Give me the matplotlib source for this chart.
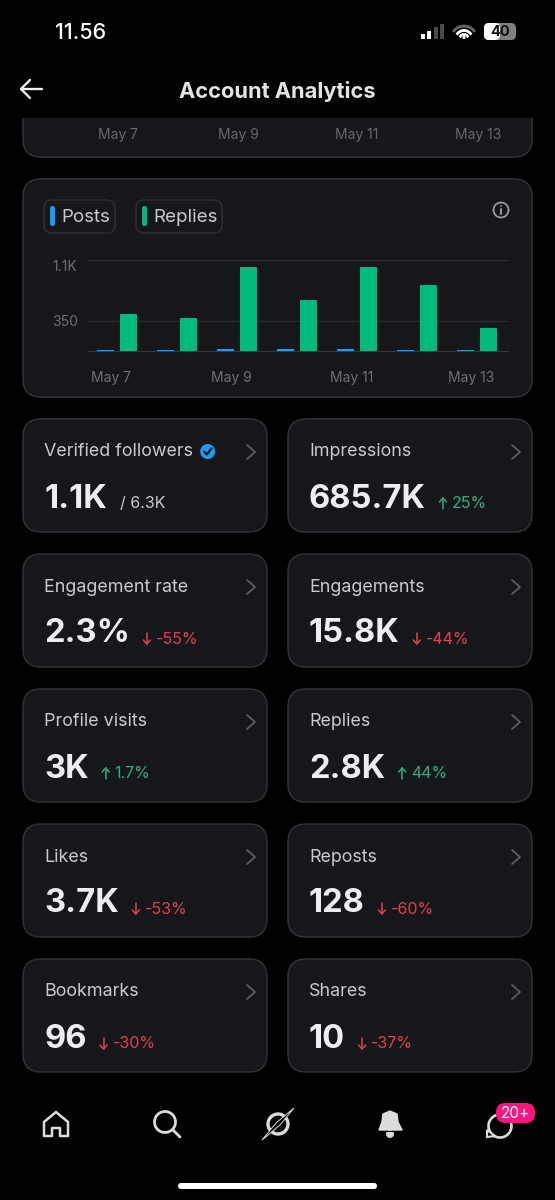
import numpy as np
import matplotlib
matplotlib.use("Agg")
import matplotlib.pyplot as plt
from matplotlib.patches import FancyBboxPatch, Circle, Rectangle, Polygon

plt.rcParams['font.family'] = ['Inter', 'DejaVu Sans']

# bar chart data
days = ["May 7", "May 8", "May 9", "May 10", "May 11", "May 12", "May 13"]
posts = [10, 14, 24, 22, 24, 16, 10]
replies = [420, 378, 965, 580, 958, 755, 252]
y_ticks = [350, 1050]
y_tick_labels = ["350", "1.1K"]

# stat cards
card_titles = ["Verified followers", "Impressions", "Engagement rate", "Engagements",
               "Profile visits", "Replies", "Likes", "Reposts", "Bookmarks", "Shares"]
card_values = ["1.1K", "685.7K", "2.3%", "15.8K", "3K", "2.8K", "3.7K", "128", "96", "10"]
card_deltas = ["/ 6.3K", "25%", "-55%", "-44%", "1.7%", "44%", "-53%", "-60%", "-30%", "-37%"]

BG = "#000000"
CARD = "#16171b"
EDGE = "#303236"
GREY = "#c9cacd"
GREEN = "#00ba7c"
GREEN_TXT = "#2fae7c"
RED = "#e0404f"
BLUE = "#1d9bf0"
ICON = "#dcdcdc"

fig = plt.figure(figsize=(5.55, 12), dpi=100, facecolor=BG)
ui = fig.add_axes([0, 0, 1, 1])
ui.set_xlim(0, 555)
ui.set_ylim(1200, 0)
ui.axis("off")


def card(x0, y0, x1, y1, r=18, fc=CARD, ec=EDGE, lw=1.1, z=1):
    p = FancyBboxPatch((x0 + r, y0 + r), x1 - x0 - 2 * r, y1 - y0 - 2 * r,
                       boxstyle="round,pad=%f,rounding_size=%f" % (r, r),
                       fc=fc, ec=ec, lw=lw, zorder=z)
    ui.add_patch(p)
    return p


def line(xs, ys, c=ICON, lw=1.6, z=5):
    ui.plot(xs, ys, color=c, lw=lw, solid_capstyle="round", solid_joinstyle="round", zorder=z)


# status bar
ui.text(81, 33, "11.56", color="white", fontsize=15.5, fontweight="medium", ha="center", va="center")
for i, h in enumerate([5, 8, 12, 15]):
    ui.add_patch(Rectangle((421 + i * 6.3, 39 - h), 4, h, fc="white" if i < 2 else "#4a4a4a", zorder=5))
wifi_t = np.linspace(np.pi * 0.22, np.pi * 0.78, 20)
for r, c in [(13, "#666666"), (8.5, "white"), (4.5, "white")]:
    ui.plot(464 + r * np.cos(wifi_t), 39 - r * np.sin(wifi_t), color=c, lw=2.0, zorder=5)
ui.add_patch(Circle((464, 37.5), 1.5, fc="white", zorder=5))
card(484, 23, 516, 40, r=5, fc="#808080", ec="none", lw=0, z=4)
card(484, 23, 500, 40, r=5, fc="white", ec="none", lw=0, z=5)
ui.text(500, 32, "40", color="#111111", fontsize=10.5, fontweight="bold", ha="center", va="center", zorder=6)

# top card, scrolled under the header
card(23, 60, 532, 157)
ui.add_patch(Rectangle((0, 50), 555, 68, fc=BG, ec="none", zorder=2))
line([21, 42], [89, 89], c="#eeeeee", lw=1.7)
line([30, 21, 30], [80, 89, 98], c="#eeeeee", lw=1.7)
ui.text(277, 91, "Account Analytics", color="#e4e4e4", fontsize=15.7, fontweight="bold", ha="center", va="center", zorder=5)
for x, d in zip([118, 238, 357, 478], days[::2]):
    ui.text(x, 135, d, color="#66686d", fontsize=10, ha="center", va="center", zorder=5)

# chart card
card(23, 179, 532, 397)
chips = [(44, 115, "Posts", BLUE), (136, 222, "Replies", GREEN)]
for x0, x1, name, col in chips:
    card(x0, 200, x1, 233, r=8, fc=CARD, ec="#2c2e33", z=2)
    card(x0 + 6, 206, x0 + 11, 226, r=2.4, fc=col, ec="none", lw=0, z=3)
    ui.text(x0 + 17, 218, name, color=GREY, fontsize=13.5, ha="left", va="center", zorder=4)
ui.add_patch(Circle((501, 210), 7.5, fc="none", ec="#9a9ba0", lw=1.3, zorder=4))
line([501, 501], [209, 214], c="#9a9ba0", lw=1.4)
ui.add_patch(Circle((501, 206), 0.9, fc="#9a9ba0", zorder=5))

ax = fig.add_axes([88.3 / 555, 1 - 351.3 / 1200, 420 / 555, 91 / 1200], facecolor="none", zorder=3)
x = np.arange(len(days))
ax.bar(x - 0.21, posts, 0.28, color=BLUE, zorder=3)
ax.bar(x + 0.173, replies, 0.26, color=GREEN, edgecolor=GREEN, linewidth=1.5, joinstyle="round", zorder=3)
ax.set_xlim(-0.5, 6.5)
ax.set_ylim(0, 1050)
ax.set_xticks(x[::2] - 0.115)
ax.set_xticklabels(days[::2])
ax.set_yticks(y_ticks)
ax.set_yticklabels(y_tick_labels)
ax.tick_params(axis="x", length=0, pad=14, labelsize=10, labelcolor="#6d6f74")
ax.tick_params(axis="y", length=0, pad=26, labelsize=10, labelcolor="#6d6f74")
for lab in ax.get_yticklabels():
    lab.set_ha("left")
ax.get_yticklabels()[1].set_va("top")
ax.grid(axis="y", color="#2c2e32", lw=1, zorder=0)
for s in ["top", "left", "right"]:
    ax.spines[s].set_visible(False)
ax.spines["bottom"].set_color("#34363a")
ax.spines["bottom"].set_zorder(1)

# stat cards
fig.canvas.draw()
rend = fig.canvas.get_renderer()
inv = ui.transData.inverted()
for i, title in enumerate(card_titles):
    x0 = 23 if i % 2 == 0 else 288
    y0 = 419 + (i // 2) * 135
    card(x0, y0, x0 + 244, y0 + 113)
    ui.text(x0 + 21, y0 + 33, title, color=GREY, fontsize=12.9, ha="left", va="center", zorder=4)
    line([x0 + 224, x0 + 232, x0 + 224], [y0 + 26, y0 + 33, y0 + 40], c="#5c5e63", lw=1.3)
    v = ui.text(x0 + 21, y0 + 80, card_values[i], color="#eeeef0", fontsize=23.5, fontweight="bold",
                ha="left", va="center", zorder=4)
    end = inv.transform(v.get_window_extent(rend).get_points())[1, 0]
    d = card_deltas[i]
    if d.startswith("/"):
        ui.text(end + 13, y0 + 84, d, color="#c9cacd", fontsize=11.5, ha="left", va="center", zorder=4)
    else:
        up = not d.startswith("-")
        col = GREEN_TXT if up else RED
        ax_x = end + 17
        top, bot = y0 + 79, y0 + 90
        tip = top if up else bot
        line([ax_x, ax_x], [top, bot], c=col, lw=1.1)
        sgn = 1 if up else -1
        line([ax_x - 3.5, ax_x, ax_x + 3.5], [tip + sgn * 4, tip, tip + sgn * 4], c=col, lw=1.1)
        ui.text(ax_x + 9, y0 + 85, d, color=col, fontsize=11.5, ha="left", va="center", zorder=4)

# verified badge
ui.add_patch(Circle((207.7, 451.5), 7.5, fc=BLUE, zorder=5))
line([204, 206.8, 211.5], [451.5, 454.5, 448.5], c="#10121a", lw=1.5, z=6)

# bottom nav
ui.add_patch(Polygon([(44, 1122), (56, 1112), (68, 1122), (68, 1136), (60, 1136), (60, 1128),
                      (52, 1128), (52, 1136), (44, 1136)], closed=True, fc="none", ec=ICON, lw=1.8, joinstyle="round", zorder=5))
ui.add_patch(Circle((165, 1122), 10.5, fc="none", ec=ICON, lw=2, zorder=5))
line([173, 180], [1130, 1137], lw=2)
ui.add_patch(Circle((278, 1124), 10, fc="none", ec=ICON, lw=2.4, zorder=5))
ui.add_patch(Polygon([(294, 1108), (280, 1125), (262, 1140), (276, 1123)], closed=True, fc=BG, ec=ICON, lw=0.7, zorder=6))
ui.add_patch(Polygon([(379, 1130), (382, 1122), (383, 1114), (390, 1111), (397, 1114), (398, 1122),
                      (402, 1130)], closed=True, fc=ICON, ec=ICON, lw=1, joinstyle="round", zorder=5))
ui.add_patch(Circle((390, 1134), 4, fc=ICON, zorder=4))
ui.add_patch(Rectangle((378, 1130.5), 24, 1.5, fc=BG, zorder=5))
ui.add_patch(Circle((500, 1126), 11.5, fc="none", ec=ICON, lw=1.9, zorder=5))
ui.add_patch(Polygon([(487, 1130), (487, 1137), (495, 1136)], closed=True, fc=BG, ec=ICON, lw=1.5, zorder=6))
card(496, 1103, 535, 1123, r=9.5, fc="#f91880", ec="none", lw=0, z=7)
ui.text(515.5, 1113.5, "20+", color="white", fontsize=11, ha="center", va="center", zorder=8)
card(178, 1183, 377, 1189, r=3, fc="white", ec="none", lw=0, z=5)

fig.savefig("out.png", dpi=100, facecolor=BG)
